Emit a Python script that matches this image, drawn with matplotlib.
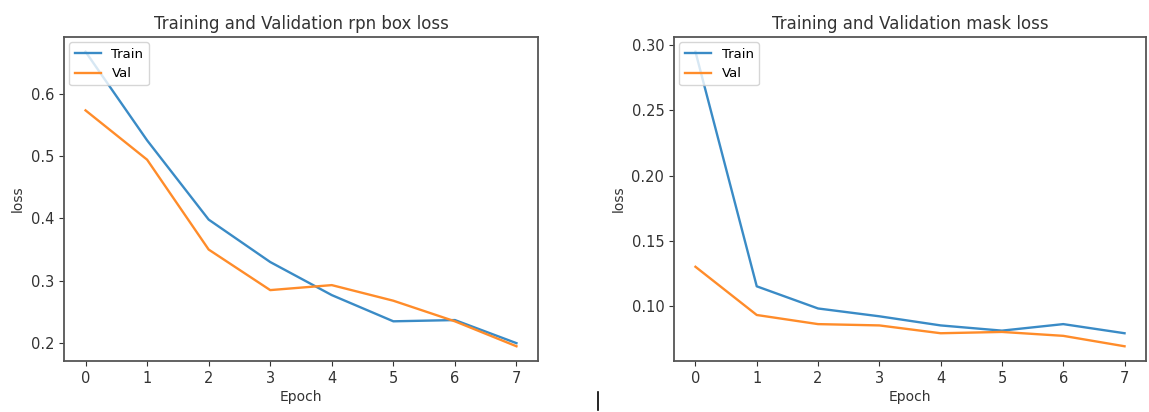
import matplotlib
matplotlib.use("Agg")
import matplotlib.pyplot as plt
from matplotlib.lines import Line2D

epochs = [0, 1, 2, 3, 4, 5, 6, 7]

rpn_train = [0.667, 0.525, 0.398, 0.330, 0.277, 0.235, 0.237, 0.200]
rpn_val = [0.573, 0.494, 0.350, 0.285, 0.293, 0.268, 0.235, 0.195]

mask_train = [0.295, 0.115, 0.098, 0.092, 0.085, 0.081, 0.086, 0.079]
mask_val = [0.130, 0.093, 0.086, 0.085, 0.079, 0.080, 0.077, 0.069]

W, H = 1149, 412
fig = plt.figure(figsize=(W / 100, H / 100), dpi=100)

ax1 = fig.add_axes([64 / W, 1 - 361 / H, (538 - 64) / W, (361 - 37) / H])
ax2 = fig.add_axes([674 / W, 1 - 361 / H, (1146 - 674) / W, (361 - 37) / H])

panels = [
    (ax1, rpn_train, rpn_val, "Training and Validation rpn box loss"),
    (ax2, mask_train, mask_val, "Training and Validation mask loss"),
]

for ax, tr, va, title in panels:
    ax.plot(epochs, tr, color="#3a8bc6", lw=1.7, label="Train")
    ax.plot(epochs, va, color="#ff8c2a", lw=1.7, label="Val")
    ax.set_title(title, fontsize=12, color="#333333")
    ax.set_xlabel("Epoch", fontsize=10, color="#333333", labelpad=3)
    ax.set_ylabel("loss", fontsize=10, color="#333333")
    ax.tick_params(labelsize=10.5, colors="#333333")
    for s in ax.spines.values():
        s.set_color("#555555")
        s.set_linewidth(1.3)
    ax.legend(loc="upper left", fontsize=9.5, borderaxespad=0.4)

ax2.set_yticks([0.10, 0.15, 0.20, 0.25, 0.30])
ax2.set_yticklabels(["0.10", "0.15", "0.20", "0.25", "0.30"])

# text cursor left in the screenshot
fig.add_artist(Line2D([598 / W, 598 / W], [1 - 410 / H, 1 - 392 / H], color="black", lw=1.2))

fig.savefig("out.png", dpi=100)
